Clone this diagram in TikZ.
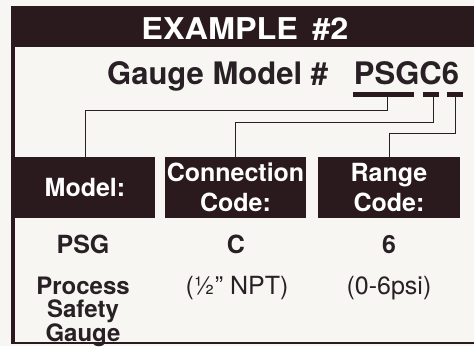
\documentclass[tikz,border=0pt]{standalone}
\usepackage{fontspec}
\setmainfont{TeX Gyre Heros}
\usepackage{graphicx}
\definecolor{darkbrown}{RGB}{42,26,30}
\definecolor{paper}{RGB}{247,246,243}
\definecolor{inkgrey}{RGB}{40,32,36}

\begin{document}
\begin{tikzpicture}[x=1pt,y=-1pt,
		codebox/.style={fill=darkbrown,minimum width=141pt,minimum height=61pt,inner sep=0pt,
			text=white,font=\fontsize{25}{30}\selectfont\bfseries,align=center},
		codebar/.style={fill=darkbrown,minimum height=5pt,inner sep=0pt},
		link/.style={draw=inkgrey,line width=0.9pt},
		value/.style={text=inkgrey,font=\fontsize{25}{22}\selectfont\bfseries,align=center,inner sep=0pt}]
				\fill[paper] (0,0) rectangle (474,346);
				\useasboundingbox (0,0) rectangle (474,346);
				\fill[darkbrown] (11,6) rectangle (474,47);
				\node[text=white,font=\fontsize{30}{36}\selectfont\bfseries] (title) at (245,29)
					{\scalebox{1.08}[1]{EXAMPLE~\,\#2}};
				\draw[darkbrown,line width=4pt] (13,47) -- (13,344);
				\draw[darkbrown,line width=2.5pt] (11,343) -- (474,343);
				\node[anchor=base west,inner sep=0pt,text=inkgrey,font=\fontsize{31}{36}\selectfont\bfseries]
					(gauge) at (107,84) {Gauge Model \#\hspace{26pt}PSGC6};
				\node[codebar,minimum width=61pt] (barpsg) at (383.5,94.5) {};
				\node[codebar,minimum width=16pt] (barc) at (431,94.5) {};
				\node[codebar,minimum width=16pt] (barsix) at (455,94.5) {};
				\node[codebox,minimum width=140pt] (modelbox) at (85,187.5) {Model:};
				\node[codebox] (connbox) at (235.5,187.5) {Connection\\Code:};
				\node[codebox,minimum width=142pt] (rangebox) at (389,187.5) {Range\\Code:};
				\draw[link] ([xshift=3.5pt]barpsg.south) -- ++(0,13) -| (modelbox.north);
				\draw[link] ([xshift=2pt]barc.south) -- ++(0,25) -| (connbox.north);
				\draw[link] (barsix.south) -- ++(0,36) -| (rangebox.north);
				\node[value,anchor=base] (psg) at (83,253) {PSG};
				\node[value,anchor=base] (ccode) at (236,253) {C};
				\node[value,anchor=base] (six) at (389,253) {6};
				\node[value,anchor=north,font=\fontsize{24}{23}\selectfont\bfseries] (psgname) at (83,276.8)
					{Process\\Safety\\Gauge};
				\node[value,anchor=base,font=\fontsize{25}{22}\selectfont] (npt) at (237,294) {(½" NPT)};
				\node[value,anchor=base,font=\fontsize{25}{22}\selectfont] (psi) at (389,294) {(0-6psi)};
			\end{tikzpicture}
\end{document}
